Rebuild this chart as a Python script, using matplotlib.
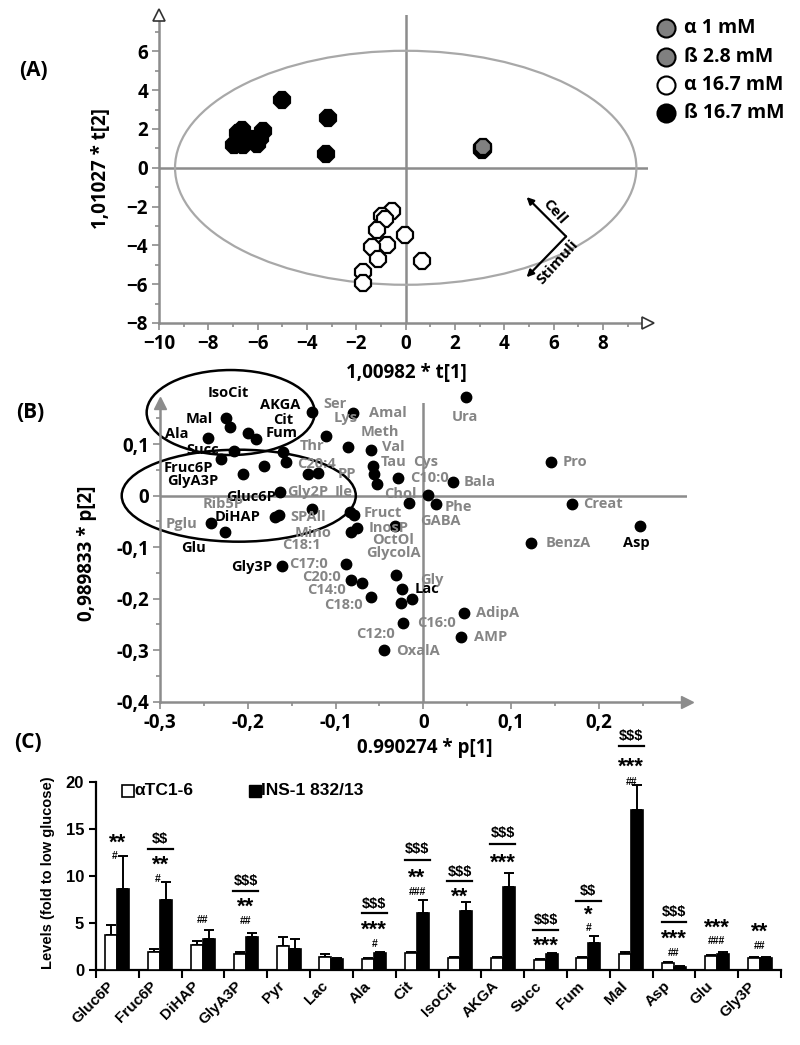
import matplotlib
matplotlib.use("Agg")
import matplotlib.pyplot as plt
from matplotlib.patches import Ellipse
from matplotlib.lines import Line2D
from matplotlib.ticker import MultipleLocator, FixedLocator, FuncFormatter
import matplotlib.transforms as mtransforms

# ---------------- Panel A: PCA scores ----------------
A_ALPHA1_T1 = [3.10, 3.12]
A_ALPHA1_T2 = [0.92, 0.96]
A_BETA28_T1 = [3.11, 3.12]
A_BETA28_T2 = [1.00, 1.06]
A_ALPHA167_T1 = [-0.57, -0.95, -0.85, -1.15, -0.77, -1.35, -1.11, -0.03, 0.67, -1.72, -1.72]
A_ALPHA167_T2 = [-2.23, -2.49, -2.65, -3.20, -4.00, -4.09, -4.69, -3.49, -4.83, -5.38, -5.95]
A_BETA167_T1 = [-5.03, -3.14, -3.24, -6.95, -6.65, -6.58, -6.18, -6.04, -5.80, -5.90, -6.72, -6.80]
A_BETA167_T2 = [3.50, 2.58, 0.71, 1.15, 1.96, 1.15, 1.50, 1.24, 1.92, 1.55, 1.60, 1.80]
A_LEGEND = ["\u03b1 1 mM", "\u00df 2.8 mM", "\u03b1 16.7 mM", "\u00df 16.7 mM"]

# ---------------- Panel B: loadings ----------------
B_NAMES = ["Ura", "Ser", "AKGA", "Thr", "Lys", "Val", "Meth", "Tau", "Cys", "C10:0", "Bala",
           "Pro", "Creat", "Asp", "BenzA", "Chol", "Phe", "GABA", "InosP", "Fruct", "Ile",
           "OctOl", "Mino", "Gly2P", "Gluc6P", "C20:4", "PP", "Amal", "Rib5P", "C18:1",
           "SPAll", "DiHAP", "Gly3P", "C17:0", "C20:0", "C14:0", "C18:0", "GlycolA", "Lac",
           "Gly", "C12:0", "C16:0", "OxalA", "AdipA", "AMP", "Mal", "IsoCit", "Cit", "Fum",
           "Ala", "Succ", "Fruc6P", "GlyA3P", "Pglu", "Glu"]
B_P1 = [0.048, -0.080, -0.127, -0.111, -0.086, -0.060, -0.057, -0.056, -0.053, -0.029, 0.034,
        0.145, 0.169, 0.247, 0.123, 0.005, 0.014, -0.016, -0.032, -0.084, -0.079,
        -0.076, -0.083, -0.127, -0.163, -0.131, -0.120, -0.160, -0.157, -0.182,
        -0.164, -0.169, -0.161, -0.088, -0.083, -0.070, -0.060, -0.031, -0.024,
        -0.013, -0.026, -0.023, -0.045, 0.046, 0.043, -0.225, -0.220, -0.200, -0.191,
        -0.245, -0.216, -0.230, -0.206, -0.242, -0.226]
B_P2 = [0.191, 0.160, 0.163, 0.115, 0.094, 0.089, 0.058, 0.043, 0.023, 0.034, 0.027,
        0.066, -0.016, -0.059, -0.091, 0.001, -0.016, -0.015, -0.059, -0.031, -0.037,
        -0.062, -0.070, -0.025, 0.008, 0.043, 0.045, 0.085, 0.066, 0.058,
        -0.037, -0.042, -0.137, -0.133, -0.164, -0.169, -0.196, -0.154, -0.182,
        -0.201, -0.209, -0.247, -0.300, -0.228, -0.274, 0.150, 0.134, 0.122, 0.111,
        0.113, 0.087, 0.071, 0.042, -0.053, -0.070]
B_HIGHLIGHT = ["IsoCit", "Mal", "Ala", "AKGA", "Cit", "Fum", "Succ", "Fruc6P", "GlyA3P",
               "Gluc6P", "DiHAP", "Glu", "Gly3P", "Lac", "Asp"]

# ---------------- Panel C: bar chart ----------------
C_GROUPS = ["Gluc6P", "Fruc6P", "DiHAP", "GlyA3P", "Pyr", "Lac", "Ala", "Cit", "IsoCit",
            "AKGA", "Succ", "Fum", "Mal", "Asp", "Glu", "Gly3P"]
C_ALPHA_MEAN = [3.68, 1.89, 2.61, 1.71, 2.50, 1.43, 1.18, 1.79, 1.25, 1.25, 1.11, 1.32, 1.68, 0.79, 1.54, 1.29]
C_ALPHA_ERR = [1.07, 0.30, 0.43, 0.15, 0.96, 0.28, 0.07, 0.10, 0.08, 0.18, 0.10, 0.11, 0.21, 0.07, 0.06, 0.07]
C_BETA_MEAN = [8.64, 7.43, 3.32, 3.46, 2.25, 1.18, 1.79, 6.10, 6.25, 8.79, 1.71, 2.89, 17.0, 0.32, 1.75, 1.32]
C_BETA_ERR = [3.45, 1.93, 0.96, 0.46, 1.07, 0.07, 0.10, 1.33, 0.93, 1.46, 0.08, 0.75, 2.64, 0.07, 0.11, 0.11]
C_SERIES = ["\u03b1TC1-6", "INS-1 832/13"]
C_SIG_DOLLAR = ["", "$$", "", "$$$", "", "", "$$$", "$$$", "$$$", "$$$", "$$$", "$$", "$$$", "$$$", "", ""]
C_SIG_STAR = ["**", "**", "", "**", "", "", "***", "**", "**", "***", "***", "*", "***", "***", "***", "**"]
C_SIG_HASH = ["#", "#", "##", "##", "", "", "#", "###", "", "", "", "#", "##", "##", "###", "##"]

# ---------------- layout (text anchors, in data units) ----------------
B_LABEL_XY = {
    "IsoCit": (-0.222, 0.200), "Mal": (-0.255, 0.148), "Ala": (-0.281, 0.120),
    "AKGA": (-0.163, 0.176), "Cit": (-0.160, 0.147), "Fum": (-0.162, 0.122),
    "Succ": (-0.251, 0.089), "Fruc6P": (-0.268, 0.053), "GlyA3P": (-0.263, 0.029),
    "Gluc6P": (-0.196, -0.002), "Rib5P": (-0.228, -0.017), "DiHAP": (-0.212, -0.041),
    "Pglu": (-0.275, -0.054), "Glu": (-0.262, -0.102), "Gly3P": (-0.196, -0.139),
    "SPAll": (-0.131, -0.041), "Mino": (-0.126, -0.073), "C18:1": (-0.139, -0.096),
    "Gly2P": (-0.132, 0.008), "Ile": (-0.091, 0.008), "Thr": (-0.127, 0.096),
    "C20:4": (-0.122, 0.062), "PP": (-0.087, 0.042), "Ser": (-0.101, 0.179),
    "Lys": (-0.089, 0.150), "Amal": (-0.040, 0.160), "Meth": (-0.050, 0.123),
    "Val": (-0.034, 0.094), "Tau": (-0.034, 0.066), "Cys": (0.003, 0.066),
    "C10:0": (0.007, 0.034), "Bala": (0.064, 0.027), "Chol": (-0.026, 0.003),
    "Phe": (0.040, -0.021), "GABA": (0.019, -0.049), "Fruct": (-0.046, -0.033),
    "InosP": (-0.040, -0.063), "OctOl": (-0.034, -0.086), "GlycolA": (-0.034, -0.112),
    "C17:0": (-0.131, -0.133), "C20:0": (-0.116, -0.158), "C14:0": (-0.110, -0.184),
    "C18:0": (-0.091, -0.212), "Gly": (0.010, -0.164), "Lac": (0.004, -0.182),
    "C16:0": (0.015, -0.248), "C12:0": (-0.054, -0.269), "OxalA": (-0.006, -0.301),
    "AdipA": (0.085, -0.228), "AMP": (0.077, -0.274), "Ura": (0.047, 0.152),
    "Pro": (0.173, 0.066), "Creat": (0.205, -0.016), "BenzA": (0.165, -0.091),
    "Asp": (0.243, -0.092),
}
C_HASH_Y = [12.1, 9.7, 5.36, 5.18, None, None, 2.75, 8.25, None, None, None, 4.5, 20.0, 1.82, 3.07, 2.54]
C_HASH_DX = [-0.07, -0.07, 0, 0, 0, 0, 0, 0, 0, 0, 0, 0, 0, 0, 0, 0]
C_STAR_Y = [14.0, 11.6, None, 7.14, None, None, 4.71, 10.2, 8.25, 11.8, 3.04, 6.36, 22.0, 3.75, 4.93, 4.46]
C_LINE_Y = [None, 12.86, None, 8.4, None, None, 6.07, 11.64, 9.4, 13.43, 4.29, 7.36, 23.8, 5.1, None, None]
C_DOLLAR_Y = [None, 13.9, None, 9.46, None, None, 6.96, 12.86, 10.46, 14.57, 5.36, 8.43, 24.9, 6.18, None, None]

W, H = 800, 1045
fig = plt.figure(figsize=(W / 100, H / 100), dpi=100)

def fx(px):
    return px / W

def fy(py):
    return 1 - py / H

GRAY = "#8c8c8c"
LGRAY = "#a8a8a8"
FONT = "Open Sans"
ARIAL = "Liberation Sans"

def style_scatter_axes(ax):
    for s in ["top", "right"]:
        ax.spines[s].set_visible(False)
    for s in ["left", "bottom"]:
        ax.spines[s].set_color(GRAY)
        ax.spines[s].set_linewidth(1.8)
    ax.tick_params(which="both", direction="out", color=GRAY, width=1.2)
    ax.tick_params(which="major", length=5, pad=3, labelsize=13.5)
    ax.tick_params(which="minor", length=3)
    for lab in ax.get_xticklabels() + ax.get_yticklabels():
        lab.set_fontfamily(FONT)
        lab.set_fontweight("bold")

# ================= Panel A =================
axA = fig.add_axes([fx(159), fy(323), fx(647.5) - fx(159), fy(14.5) - fy(323)])
axA.set_xlim(-10, 9.8)
axA.set_ylim(-8, 7.9)
axA.xaxis.set_major_locator(FixedLocator([-10, -8, -6, -4, -2, 0, 2, 4, 6, 8]))
axA.xaxis.set_minor_locator(MultipleLocator(1))
axA.yaxis.set_major_locator(FixedLocator([-8, -6, -4, -2, 0, 2, 4, 6]))
axA.yaxis.set_minor_locator(MultipleLocator(1))
axA.axhline(0, color=GRAY, lw=1.8, zorder=1)
axA.axvline(0, color=GRAY, lw=1.8, zorder=1)
axA.add_patch(Ellipse((0, 0), 2 * 9.35, 2 * 6.03, fill=False, ec=LGRAY, lw=1.6, zorder=1))
style_scatter_axes(axA)
axA.plot([-10], [7.9], marker="^", ms=8, mfc="white", mec="#333333", mew=1.2, clip_on=False, zorder=5)
axA.plot([9.8], [-8], marker=">", ms=8, mfc="white", mec="#333333", mew=1.2, clip_on=False, zorder=5)

mk = dict(marker="8", ms=12.5, mec="black", mew=1.6, ls="none", zorder=3)
axA.plot(A_BETA167_T1, A_BETA167_T2, mfc="black", **mk)
axA.plot(A_ALPHA167_T1, A_ALPHA167_T2, mfc="white", **mk)
axA.plot(A_ALPHA1_T1, A_ALPHA1_T2, mfc="#808080", **mk)
axA.plot(A_BETA28_T1, A_BETA28_T2, mfc="#808080", **mk)

# Cell / Stimuli arrows
corner = (6.5, -3.54)
axA.annotate("", xy=(4.9, -1.51), xytext=corner,
             arrowprops=dict(arrowstyle="-|>", color="black", lw=1.6, mutation_scale=10, shrinkA=0, shrinkB=0))
axA.annotate("", xy=(4.9, -5.64), xytext=corner,
             arrowprops=dict(arrowstyle="-|>", color="black", lw=1.6, mutation_scale=10, shrinkA=0, shrinkB=0))
axA.text(6.05, -2.25, "Cell", rotation=-48, ha="center", va="center", fontsize=11,
         fontweight="bold", family=FONT)
axA.text(6.15, -4.85, "Stimuli", rotation=48, ha="center", va="center", fontsize=11,
         fontweight="bold", family=FONT)

fig.text(fx(406), fy(373), "1,00982 * t[1]", ha="center", va="center", fontsize=13.5,
         fontweight="bold", family=FONT)
fig.text(fx(101), fy(169), "1,01027 * t[2]", ha="center", va="center", rotation=90,
         fontsize=13.5, fontweight="bold", family=FONT)
fig.text(fx(33), fy(71), "(A)", ha="center", va="center", fontsize=15, fontweight="bold", family=FONT)

# legend for A
leg_faces = ["#808080", "#808080", "white", "black"]
for i, (lab, fc) in enumerate(zip(A_LEGEND, leg_faces)):
    yy = 28.3 + i * 28.3
    fig.add_artist(Line2D([fx(666)], [fy(yy)], marker="o", ms=13, mfc=fc, mec="black",
                          mew=1.5, transform=fig.transFigure))
    fig.text(fx(684), fy(yy), lab, ha="left", va="center", fontsize=14, fontweight="bold",
             family=FONT)

# ================= Panel B =================
axB = fig.add_axes([fx(160), fy(701.7), fx(686.8) - fx(160), fy(403) - fy(701.7)])
axB.set_xlim(-0.3, 0.3)
axB.set_ylim(-0.4, 0.18)
axB.xaxis.set_major_locator(FixedLocator([-0.3, -0.2, -0.1, 0, 0.1, 0.2]))
axB.xaxis.set_minor_locator(FixedLocator([-0.25, -0.15, -0.05, 0.05, 0.15, 0.25]))
axB.yaxis.set_major_locator(FixedLocator([-0.4, -0.3, -0.2, -0.1, 0, 0.1]))
axB.yaxis.set_minor_locator(FixedLocator([-0.35, -0.25, -0.15, -0.05, 0.05, 0.15]))
comma = FuncFormatter(lambda v, p: "0" if abs(v) < 1e-9 else ("%.1f" % v).replace(".", ","))
axB.xaxis.set_major_formatter(comma)
axB.yaxis.set_major_formatter(comma)
axB.axhline(0, color=GRAY, lw=1.8, zorder=1)
axB.axvline(0, color=GRAY, lw=1.8, zorder=1)
style_scatter_axes(axB)
axB.plot([-0.3], [0.18], marker="^", ms=8, mfc=GRAY, mec=GRAY, clip_on=False, zorder=5)
axB.plot([0.3], [-0.4], marker=">", ms=8, mfc=GRAY, mec=GRAY, clip_on=False, zorder=5)

axB.plot(B_P1, B_P2, "o", color="black", ms=7.5, zorder=3, clip_on=False)
for name in B_NAMES:
    lx, ly = B_LABEL_XY[name]
    col = "black" if name in B_HIGHLIGHT else "#858585"
    axB.text(lx, ly, name, ha="center", va="center", fontsize=10.5, fontweight="bold",
             family=FONT, color=col, zorder=4)

axB.add_patch(Ellipse((-0.2195, 0.1615), 2 * 0.0957, 2 * 0.0825, fill=False, ec="black", lw=1.8,
                      zorder=2, clip_on=False))
axB.add_patch(Ellipse((-0.2103, 0.0), 2 * 0.1333, 2 * 0.0893, fill=False, ec="black", lw=1.8,
                      zorder=2, clip_on=False))

fig.text(fx(425), fy(748), "0.990274 * p[1]", ha="center", va="center", fontsize=13.5,
         fontweight="bold", family=FONT)
fig.text(fx(87), fy(553), "0,989833 * p[2]", ha="center", va="center", rotation=90,
         fontsize=13.5, fontweight="bold", family=FONT)
fig.text(fx(30), fy(412), "(B)", ha="center", va="center", fontsize=15, fontweight="bold", family=FONT)
fig.text(fx(28), fy(742), "(C)", ha="center", va="center", fontsize=15, fontweight="bold", family=FONT)

# ================= Panel C =================
axC = fig.add_axes([fx(96), fy(970), fx(781) - fx(96), fy(781.7) - fy(970)])
n = len(C_GROUPS)
centers = [i + 0.5 for i in range(n)]
bw = 0.28
xa = [c - bw / 2 for c in centers]
xb = [c + bw / 2 for c in centers]
axC.errorbar(xa, C_ALPHA_MEAN, yerr=[[0] * n, C_ALPHA_ERR], fmt="none", ecolor="black",
             elinewidth=1.4, capsize=3.5, capthick=1.4, zorder=2)
axC.errorbar(xb, C_BETA_MEAN, yerr=[[0] * n, C_BETA_ERR], fmt="none", ecolor="black",
             elinewidth=1.4, capsize=3.5, capthick=1.4, zorder=2)
axC.bar(xa, C_ALPHA_MEAN, width=bw, color="white", edgecolor="black", linewidth=1.2, zorder=3)
axC.bar(xb, C_BETA_MEAN, width=bw, color="black", edgecolor="black", linewidth=1.2, zorder=3)
axC.set_xlim(0, n)
axC.set_ylim(0, 20)
axC.set_xticks(range(n + 1))
axC.set_xticklabels([])
axC.set_xticks(centers, minor=True)
axC.set_xticklabels(C_GROUPS, minor=True, rotation=45, ha="right", va="center",
                    rotation_mode="anchor", fontsize=11, fontweight="bold", family=ARIAL)
axC.tick_params(axis="x", which="minor", length=0, pad=10)
axC.tick_params(axis="x", which="major", length=6, width=1.5, direction="out")
axC.set_yticks([0, 5, 10, 15, 20])
axC.tick_params(axis="y", length=5, width=1.5, direction="out", labelsize=12)
for lab in axC.get_yticklabels():
    lab.set_fontweight("bold")
    lab.set_fontfamily(ARIAL)
for s in ["top", "right"]:
    axC.spines[s].set_visible(False)
for s in ["left", "bottom"]:
    axC.spines[s].set_linewidth(1.6)
off = mtransforms.ScaledTranslation(-6 / 100, 0, fig.dpi_scale_trans)
for lab in axC.xaxis.get_minorticklabels():
    lab.set_transform(lab.get_transform() + off)

for i, c in enumerate(centers):
    if C_HASH_Y[i] is not None:
        axC.text(c + C_HASH_DX[i], C_HASH_Y[i], C_SIG_HASH[i], ha="center", va="center", fontsize=7.5,
                 fontweight="bold", family=ARIAL, clip_on=False, parse_math=False)
    if C_STAR_Y[i] is not None:
        axC.text(c, C_STAR_Y[i] - 0.5, C_SIG_STAR[i], ha="center", va="center", fontsize=16,
                 fontweight="bold", family=ARIAL, clip_on=False, parse_math=False)
    if C_LINE_Y[i] is not None:
        axC.plot([c - 0.29, c + 0.29], [C_LINE_Y[i]] * 2, color="black", lw=1.6, clip_on=False)
    if C_DOLLAR_Y[i] is not None:
        axC.text(c, C_DOLLAR_Y[i], C_SIG_DOLLAR[i], ha="center", va="center", fontsize=10.5,
                 fontweight="bold", family=ARIAL, clip_on=False, parse_math=False)

fig.text(fx(48), fy(873), "Levels (fold to low glucose)", ha="center", va="center", rotation=90,
         fontsize=10.5, fontweight="bold", family=ARIAL)
fig.add_artist(Line2D([fx(128)], [fy(790.7)], marker="s", ms=8, mfc="white", mec="black", mew=1.2,
                      transform=fig.transFigure))
fig.text(fx(134), fy(790.7), C_SERIES[0], ha="left", va="center", fontsize=12.5, fontweight="bold",
         family=ARIAL)
fig.add_artist(Line2D([fx(254.5)], [fy(790.7)], marker="s", ms=8, mfc="black", mec="black",
                      transform=fig.transFigure))
fig.text(fx(261), fy(790.7), C_SERIES[1], ha="left", va="center", fontsize=12.5, fontweight="bold",
         family=ARIAL)

fig.savefig("out.png", dpi=100)
